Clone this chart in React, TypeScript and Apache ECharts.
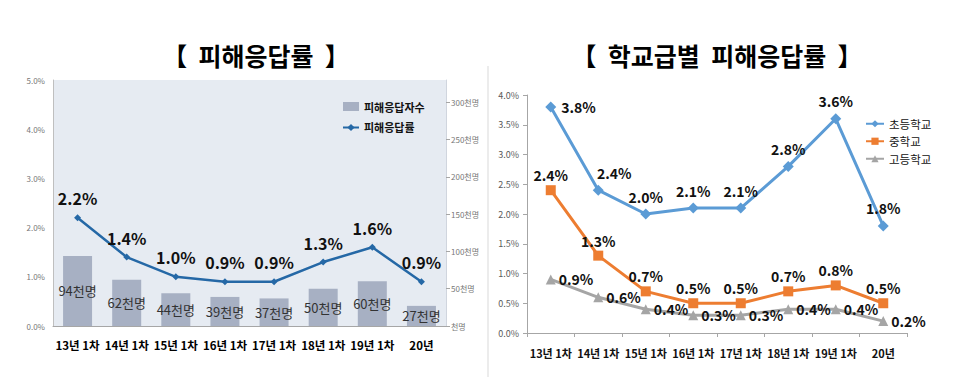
import React, { useEffect, useRef } from "react";
import * as echarts from "echarts";

const categories = ["13년 1차", "14년 1차", "15년 1차", "16년 1차", "17년 1차", "18년 1차", "19년 1차", "20년"];
const victimCounts = [94, 62, 44, 39, 37, 50, 60, 27];
const victimRate = [2.2, 1.4, 1.0, 0.9, 0.9, 1.3, 1.6, 0.9];
const elementary = [3.8, 2.4, 2.0, 2.1, 2.1, 2.8, 3.6, 1.8];
const middleSchool = [2.4, 1.3, 0.7, 0.5, 0.5, 0.7, 0.8, 0.5];
const highSchool = [0.9, 0.6, 0.4, 0.3, 0.3, 0.4, 0.4, 0.2];
const elementaryLabelPos = ["right", "top", "top", "top", "top", "top", "top", "top"];

const FONT = "'Noto Sans CJK KR', 'Noto Sans', sans-serif";

export default function App() {
  const ref = useRef<HTMLDivElement>(null);
  useEffect(() => {
    if (!ref.current) return;
    const chart = echarts.init(ref.current, undefined, { renderer: "svg" });
    const option: any = {
      animation: false,
      backgroundColor: "#ffffff",
      textStyle: { fontFamily: FONT },
      graphic: [
        {
          type: "text",
          x: 256,
          y: 55,
          style: {
            text: "【  피해응답률  】",
            font: `bold 25px ${FONT}`,
            fill: "#000",
            align: "center",
            verticalAlign: "middle",
          },
        },
        {
          type: "text",
          x: 717,
          y: 55,
          style: {
            text: "【  학교급별  피해응답률  】",
            font: `bold 25px ${FONT}`,
            fill: "#000",
            align: "center",
            verticalAlign: "middle",
          },
        },
        {
          type: "line",
          shape: { x1: 488, y1: 66, x2: 488, y2: 377 },
          style: { stroke: "#d9d9d9", lineWidth: 1 },
        },
      ],
      legend: [
        {
          orient: "vertical",
          left: 337,
          top: 96,
          itemWidth: 16,
          itemHeight: 9,
          itemGap: 10,
          textStyle: { fontSize: 11, fontWeight: "bold", color: "#111", fontFamily: FONT },
          data: [{ name: "피해응답자수", icon: "rect" }, { name: "피해응답률" }],
        },
        {
          orient: "vertical",
          left: 860,
          top: 113,
          itemWidth: 18,
          itemHeight: 9,
          itemGap: 6,
          textStyle: { fontSize: 11.5, color: "#111", fontFamily: FONT },
          data: ["초등학교", "중학교", "고등학교"],
        },
      ],
      grid: [
        {
          left: 53,
          top: 80,
          width: 393,
          height: 246,
          show: true,
          backgroundColor: "#e6ebf2",
          borderWidth: 0,
        },
        {
          left: 527,
          top: 95,
          width: 380,
          height: 238,
        },
      ],
      xAxis: [
        {
          type: "category",
          gridIndex: 0,
          data: categories,
          boundaryGap: true,
          axisLine: { show: true, lineStyle: { color: "#a6a6a6" } },
          axisTick: { show: false },
          axisLabel: { interval: 0, fontSize: 11.5, fontWeight: "bold", color: "#000", margin: 13, fontFamily: FONT },
        },
        {
          type: "category",
          gridIndex: 1,
          data: categories,
          boundaryGap: true,
          axisLine: { show: true, lineStyle: { color: "#a6a6a6" } },
          axisTick: { show: true, interval: 0, length: 4, lineStyle: { color: "#a6a6a6" } },
          axisLabel: { interval: 0, fontSize: 11, fontWeight: "bold", color: "#111", margin: 14, fontFamily: FONT },
        },
      ],
      yAxis: [
        {
          type: "value",
          gridIndex: 0,
          min: 0,
          max: 5,
          interval: 1,
          axisLine: { show: true, lineStyle: { color: "#bfbfbf" } },
          axisTick: { show: false },
          splitLine: { show: false },
          axisLabel: {
            fontSize: 8,
            color: "#777",
            margin: 8,
            formatter: (v: number) => `${v.toFixed(1)}%`,
          },
        },
        {
          type: "value",
          gridIndex: 0,
          position: "right",
          min: 0,
          max: 330,
          interval: 50,
          axisLine: { show: true, lineStyle: { color: "#d0d5de" } },
          axisTick: { show: true, length: 4, lineStyle: { color: "#a6a6a6" } },
          splitLine: { show: false },
          axisLabel: {
            fontSize: 8,
            color: "#777",
            margin: 5,
            showMaxLabel: false,
            formatter: (v: number) => (v % 50 !== 0 ? "" : v === 0 ? "천명" : `${v}천명`),
          },
        },
        {
          type: "value",
          gridIndex: 1,
          min: 0,
          max: 4,
          interval: 0.5,
          axisLine: { show: true, lineStyle: { color: "#a6a6a6" } },
          axisTick: { show: true, length: 4, lineStyle: { color: "#a6a6a6" } },
          splitLine: { show: false },
          axisLabel: {
            fontSize: 9,
            color: "#595959",
            margin: 8,
            formatter: (v: number) => `${v.toFixed(1)}%`,
          },
        },
      ],
      series: [
        {
          name: "피해응답자수",
          type: "bar",
          xAxisIndex: 0,
          yAxisIndex: 1,
          data: victimCounts,
          barWidth: 29,
          itemStyle: { color: "#a7b0c3" },
          label: {
            show: true,
            position: "inside",
            fontSize: 13,
            color: "#333",
            fontFamily: FONT,
            formatter: (p: any) => `${p.value}천명`,
          },
          z: 1,
        },
        {
          name: "피해응답률",
          type: "line",
          xAxisIndex: 0,
          yAxisIndex: 0,
          data: victimRate,
          lineStyle: { color: "#2568a6", width: 2.5 },
          itemStyle: { color: "#2568a6" },
          symbol: "diamond",
          symbolSize: 7,
          label: {
            show: true,
            position: "top",
            distance: 8,
            fontSize: 16,
            fontWeight: "bold",
            color: "#111",
            fontFamily: FONT,
            formatter: (p: any) => `${p.value.toFixed(1)}%`,
          },
          z: 3,
        },
        {
          name: "초등학교",
          type: "line",
          xAxisIndex: 1,
          yAxisIndex: 2,
          data: elementary.map((v, i) => ({
            value: v,
            label: { position: elementaryLabelPos[i], offset: i === 1 ? [16, 0] : [0, 0] },
          })),
          lineStyle: { color: "#5b9bd5", width: 3 },
          itemStyle: { color: "#5b9bd5" },
          symbol: "diamond",
          symbolSize: 11,
          label: {
            show: true,
            distance: 5,
            fontSize: 14,
            fontWeight: "bold",
            color: "#111",
            fontFamily: FONT,
            formatter: (p: any) => `${p.value.toFixed(1)}%`,
          },
        },
        {
          name: "중학교",
          type: "line",
          xAxisIndex: 1,
          yAxisIndex: 2,
          data: middleSchool,
          lineStyle: { color: "#ed7d31", width: 3 },
          itemStyle: { color: "#ed7d31" },
          symbol: "rect",
          symbolSize: 10,
          label: {
            show: true,
            position: "top",
            distance: 3,
            fontSize: 14,
            fontWeight: "bold",
            color: "#111",
            fontFamily: FONT,
            formatter: (p: any) => `${p.value.toFixed(1)}%`,
          },
        },
        {
          name: "고등학교",
          type: "line",
          xAxisIndex: 1,
          yAxisIndex: 2,
          data: highSchool,
          lineStyle: { color: "#a5a5a5", width: 3 },
          itemStyle: { color: "#a5a5a5" },
          symbol: "triangle",
          symbolSize: 10,
          label: {
            show: true,
            position: "right",
            distance: 3,
            fontSize: 14,
            fontWeight: "bold",
            color: "#111",
            fontFamily: FONT,
            formatter: (p: any) => `${p.value.toFixed(1)}%`,
          },
        },
      ],
    };
    chart.setOption(option);
    return () => chart.dispose();
  }, []);
  return (
    <div
      ref={ref}
      style={{ position: "fixed", left: 0, top: 0, width: 970, height: 377, background: "#fff" }}
    />
  );
}
